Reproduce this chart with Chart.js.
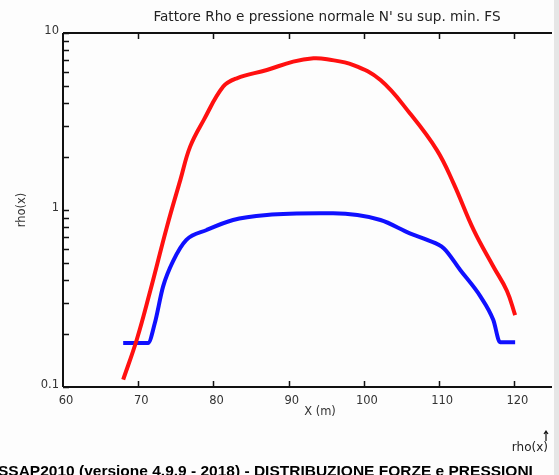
<!DOCTYPE html>
<html>
<head>
<meta charset="utf-8">
<script src="https://cdn.jsdelivr.net/npm/chart.js@4/dist/chart.umd.min.js"></script>
<style>
  html, body { margin: 0; padding: 0; background: #fdfdfd; }
  #wrap { position: relative; width: 559px; height: 475px; }
  canvas { display: block; }
</style>
</head>
<body>
<div id="wrap"><canvas id="rho-chart" width="559" height="475"></canvas></div>
<script>
// dati
const xTicks = [60, 70, 80, 90, 100, 110, 120];
const yTicks = [0.1, 1, 10];

const rhoX = [68.0, 69.8, 71.6, 73.8, 75.6, 76.9, 78.7, 81.3, 83.1, 87.1, 90.6, 93.3, 95.1, 98.6, 102.2, 106.1, 109.7, 111.9, 114.6, 117.2, 119.0, 120.1];
const rhoY = [0.11, 0.185, 0.35, 0.80, 1.48, 2.28, 3.22, 4.98, 5.55, 6.18, 6.89, 7.19, 7.10, 6.59, 5.42, 3.52, 2.18, 1.42, 0.77, 0.48, 0.35, 0.255];

const nX = [68.0, 71.3, 72.2, 73.3, 74.7, 76.4, 79.1, 82.6, 87.1, 94.2, 95.9, 102.2, 106.1, 108.4, 110.6, 112.8, 115.5, 117.2, 118.1, 120.1];
const nY = [0.177, 0.177, 0.229, 0.369, 0.521, 0.678, 0.771, 0.878, 0.937, 0.958, 0.958, 0.878, 0.738, 0.678, 0.608, 0.458, 0.324, 0.239, 0.179, 0.179];

const toPoints = (xs, ys) => xs.map((x, i) => ({ x: x, y: ys[i] }));

// assi disegnati a mano: tacche verso l'interno come nell'originale
const frame = {
    id: 'frame',
    afterDraw(chart) {
        const ctx = chart.ctx;
        const { left, right, top, bottom } = chart.chartArea;
        const sx = chart.scales.x, sy = chart.scales.y;
        ctx.save();
        ctx.strokeStyle = '#111';
        ctx.lineWidth = 2;
        ctx.beginPath();
        ctx.moveTo(left, top); ctx.lineTo(right, top);
        ctx.moveTo(left, bottom); ctx.lineTo(right, bottom);
        ctx.moveTo(left, top); ctx.lineTo(left, bottom);
        ctx.stroke();

        ctx.lineWidth = 1.5;
        ctx.beginPath();
        xTicks.forEach(v => {
            const px = Math.round(sx.getPixelForValue(v)) + 0.5;
            if (v === xTicks[0]) return;
            ctx.moveTo(px, bottom); ctx.lineTo(px, bottom - 6);
            ctx.moveTo(px, top); ctx.lineTo(px, top + 6);
        });
        for (let d = 0.1; d < 10; d *= 10) {
            for (let m = 2; m <= 9; m++) {
                const py = Math.round(sy.getPixelForValue(d * m)) + 0.5;
                ctx.moveTo(left, py); ctx.lineTo(left + 6, py);
            }
        }
        yTicks.forEach(v => {
            const py = Math.round(sy.getPixelForValue(v)) + 0.5;
            ctx.moveTo(left, py); ctx.lineTo(left + 6, py);
        });
        ctx.stroke();

        ctx.fillStyle = '#333';
        ctx.font = '11.5px "DejaVu Sans", sans-serif';
        ctx.textAlign = 'center';
        ctx.textBaseline = 'top';
        xTicks.forEach(v => {
            ctx.fillText(String(v), sx.getPixelForValue(v) + 3, bottom + 8);
        });
        ctx.textAlign = 'right';
        ctx.textBaseline = 'middle';
        yTicks.forEach(v => {
            ctx.fillText(String(v), left - 4, sy.getPixelForValue(v) - 2);
        });

        // titoli assi
        ctx.textAlign = 'center';
        ctx.fillText('X (m)', 320, 412);
        ctx.save();
        ctx.translate(22, 210);
        ctx.rotate(-Math.PI / 2);
        ctx.fillText('rho(x)', 0, 0);
        ctx.restore();

        ctx.font = '13.6px "DejaVu Sans", sans-serif';
        ctx.fillStyle = '#222';
        ctx.fillText("Fattore Rho e pressione normale N' su sup. min. FS", 327, 17);

        ctx.font = '12px "DejaVu Sans", sans-serif';
        ctx.textAlign = 'right';
        ctx.fillText('rho(x)', 548, 448);
        ctx.lineWidth = 1.2;
        ctx.beginPath();
        ctx.moveTo(546, 431); ctx.lineTo(546, 441);
        ctx.moveTo(544, 434); ctx.lineTo(546, 431); ctx.lineTo(548, 434);
        ctx.stroke();

        ctx.font = 'bold 15.5px "Liberation Sans", Arial, sans-serif';
        ctx.textAlign = 'left';
        ctx.textBaseline = 'alphabetic';
        ctx.fillStyle = '#000';
        ctx.fillText('SSAP2010 (versione 4.9.9 - 2018) - DISTRIBUZIONE FORZE e PRESSIONI', -2, 476);

        // bordo grigio a destra
        ctx.fillStyle = '#e6e6e6';
        ctx.fillRect(554, 0, 5, 475);
        ctx.restore();
    }
};

new Chart(document.getElementById('rho-chart').getContext('2d'), {
    type: 'line',
    data: {
        datasets: [{
            label: 'rho',
            data: toPoints(rhoX, rhoY),
            borderColor: '#ff1010',
            borderWidth: 4,
            pointRadius: 0,
            tension: 0.4
        }, {
            label: 'N',
            data: toPoints(nX, nY),
            borderColor: '#1010ff',
            borderWidth: 4,
            pointRadius: 0,
            cubicInterpolationMode: 'monotone'
        }]
    },
    options: {
        responsive: false,
        animation: false,
        layout: { padding: { left: 63, top: 33, right: 7, bottom: 88 } },
        scales: {
            x: { type: 'linear', min: 60, max: 125, display: false },
            y: { type: 'logarithmic', min: 0.1, max: 10, display: false }
        },
        plugins: {
            legend: { display: false },
            tooltip: { enabled: false }
        }
    },
    plugins: [frame]
});
</script>
</body>
</html>
